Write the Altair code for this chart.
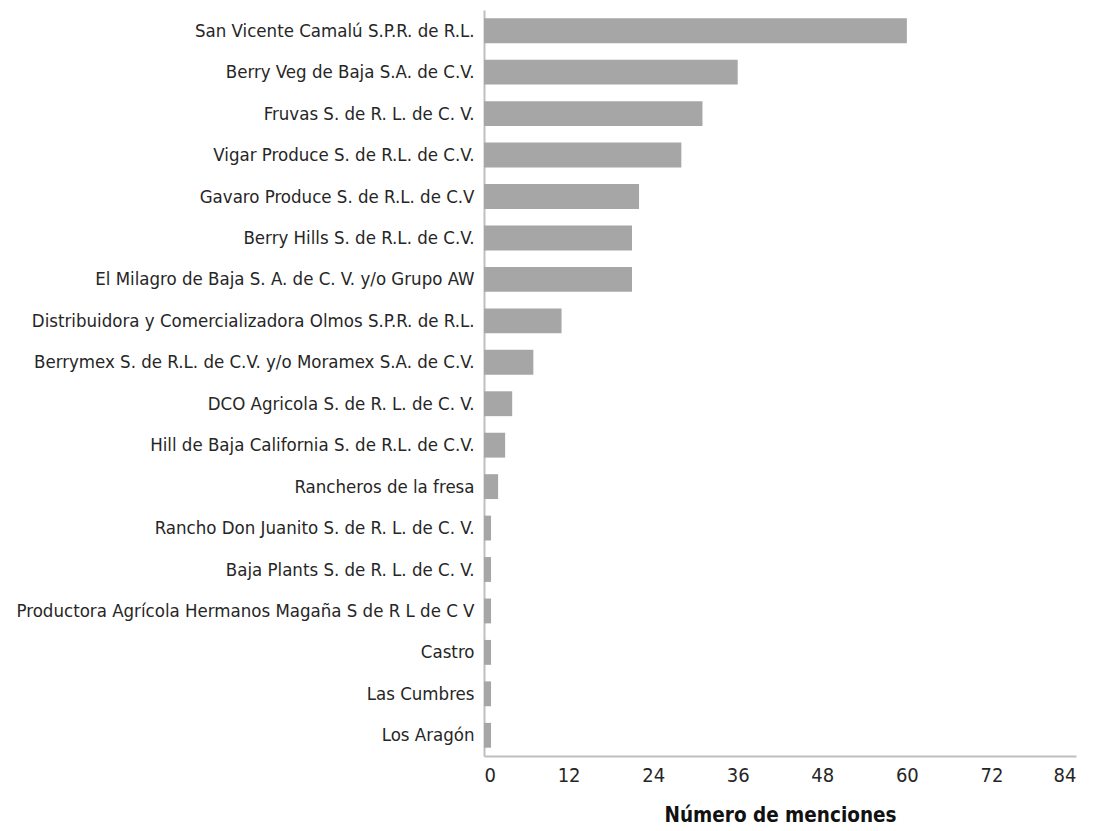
import altair as alt
import pandas as pd

companies = [
    "San Vicente Camalú S.P.R. de R.L.",
    "Berry Veg de Baja S.A. de C.V.",
    "Fruvas S. de R. L. de C. V.",
    "Vigar Produce S. de R.L. de C.V.",
    "Gavaro Produce S. de R.L. de C.V",
    "Berry Hills S. de R.L. de C.V.",
    "El Milagro de Baja S. A. de C. V. y/o Grupo AW",
    "Distribuidora y Comercializadora Olmos S.P.R. de R.L.",
    "Berrymex S. de R.L. de C.V. y/o Moramex S.A. de C.V.",
    "DCO Agricola S. de R. L. de C. V.",
    "Hill de Baja California S. de R.L. de C.V.",
    "Rancheros de la fresa",
    "Rancho Don Juanito S. de R. L. de C. V.",
    "Baja Plants S. de R. L. de C. V.",
    "Productora Agrícola Hermanos Magaña S de R L de C V",
    "Castro",
    "Las Cumbres",
    "Los Aragón",
]
mentions = [60, 36, 31, 28, 22, 21, 21, 11, 7, 4, 3, 2, 1, 1, 1, 1, 1, 1]
x_ticks = [0, 12, 24, 36, 48, 60, 72, 84]

df = pd.DataFrame({"empresa": companies, "menciones": mentions})

FONT = "Liberation Sans Narrow, DejaVu Sans Condensed, sans-serif"

chart = alt.Chart(df).mark_bar(color="#a6a6a6").encode(
    x=alt.X(
        "menciones:Q",
        scale=alt.Scale(domain=[0, 84], nice=False),
        axis=alt.Axis(
            values=x_ticks, grid=False, ticks=False, domainColor="#bfbfbf",
            domainWidth=2, labelFontSize=20, labelColor="#262626", labelFont=FONT,
            labelPadding=9, title="Número de menciones", titleFontSize=20.5,
            titleFont=FONT, titleFontWeight="bold", titleColor="#111111",
            titlePadding=20,
        ),
    ),
    y=alt.Y(
        "empresa:N",
        sort=companies,
        scale=alt.Scale(paddingInner=0.4, paddingOuter=0.2),
        axis=alt.Axis(
            title=None, ticks=False, domainColor="#bfbfbf", domainWidth=2,
            labelFontSize=18.5, labelColor="#262626", labelFont=FONT,
            labelPadding=10, labelLimit=600,
        ),
    ),
).properties(
    width=592,
    height=746,
    autosize=alt.AutoSizeParams(type="none"),
    padding={"left": 476, "top": 2, "right": 12, "bottom": 75},
).configure_view(stroke=None)

chart.save("out.html", embed_options={"renderer": "svg", "actions": False})
